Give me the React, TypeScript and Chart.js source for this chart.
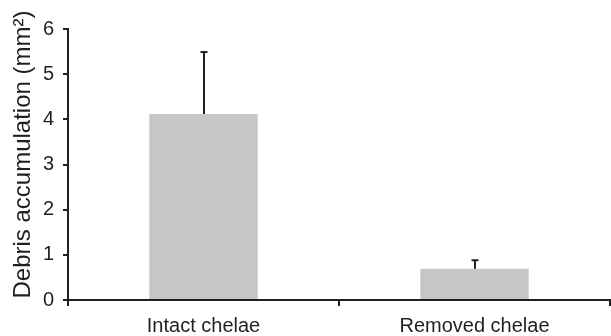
import React, { useEffect, useRef } from "react";
import { Chart, registerables } from "chart.js";

Chart.register(...registerables);

const categories = ["Intact chelae", "Removed chelae"];
const means = [4.12, 0.69];
const errors = [1.37, 0.19];
const yTicks = [0, 1, 2, 3, 4, 5, 6];
const yTitle = "Debris accumulation (mm²)";

const FONT = "'Liberation Sans', Arial, Helvetica, sans-serif";
const INK = "#231f20";

const errorBarPlugin = {
  id: "errorBars",
  afterDatasetsDraw(chart: any) {
    const ctx = chart.ctx;
    const yScale = chart.scales.y;
    const meta = chart.getDatasetMeta(0);
    ctx.save();
    ctx.strokeStyle = INK;
    ctx.lineWidth = 2;
    meta.data.forEach((bar: any, i: number) => {
      const x = Math.round(bar.x);
      const yBase = bar.y;
      const yTop = yScale.getPixelForValue(means[i] + errors[i]);
      ctx.beginPath();
      ctx.moveTo(x, yBase);
      ctx.lineTo(x, yTop);
      ctx.stroke();
      ctx.beginPath();
      ctx.moveTo(x - 3.5, yTop);
      ctx.lineTo(x + 3.5, yTop);
      ctx.stroke();
    });
    ctx.restore();
  },
};

const yTitlePlugin = {
  id: "yTitle",
  afterDraw(chart: any) {
    const ctx = chart.ctx;
    const area = chart.chartArea;
    ctx.save();
    ctx.translate(23, (area.top + area.bottom) / 2 - 10);
    ctx.rotate(-Math.PI / 2);
    ctx.fillStyle = INK;
    ctx.font = `24px ${FONT}`;
    ctx.textAlign = "center";
    ctx.textBaseline = "middle";
    ctx.fillText(yTitle, 0, 0);
    ctx.restore();
  },
};

export default function App() {
  const ref = useRef<HTMLCanvasElement | null>(null);
  useEffect(() => {
    if (!ref.current) return;
    const chart = new Chart(ref.current, {
      type: "bar",
      data: {
        labels: categories,
        datasets: [
          {
            data: means,
            backgroundColor: "#c5c6c8",
            borderWidth: 0,
            barPercentage: 0.4,
            categoryPercentage: 1.0,
          },
        ],
      },
      options: {
        animation: false,
        responsive: false,
        maintainAspectRatio: false,
        devicePixelRatio: 1,
        layout: { padding: { top: 29, right: 1, left: 0, bottom: 0 } },
        plugins: { legend: { display: false }, tooltip: { enabled: false } },
        scales: {
          x: {
            grid: {
              offset: true,
              drawOnChartArea: false,
              drawTicks: true,
              tickLength: 6,
              color: INK,
              lineWidth: 2,
            },
            border: { color: INK, width: 2 },
            ticks: {
              color: INK,
              font: { family: FONT, size: 20 },
              padding: 8,
              maxRotation: 0,
            },
            afterFit: (s: any) => {
              s.height = 36;
            },
          },
          y: {
            min: 0,
            max: 6,
            afterBuildTicks: (s: any) => {
              s.ticks = yTicks.map((v) => ({ value: v }));
            },
            grid: {
              drawOnChartArea: false,
              drawTicks: true,
              tickLength: 5,
              color: INK,
              lineWidth: 2,
            },
            border: { color: INK, width: 2 },
            ticks: {
              color: INK,
              font: { family: FONT, size: 20 },
              padding: 9,
            },
            title: { display: false },
            afterFit: (s: any) => {
              s.width = 68;
            },
          },
        },
      },
      plugins: [errorBarPlugin, yTitlePlugin],
    });
    return () => chart.destroy();
  }, []);
  return (
    <div style={{ position: "absolute", left: 0, top: 0, width: 611, height: 336, background: "#fff" }}>
      <canvas ref={ref} width={611} height={336} style={{ display: "block" }} />
    </div>
  );
}
